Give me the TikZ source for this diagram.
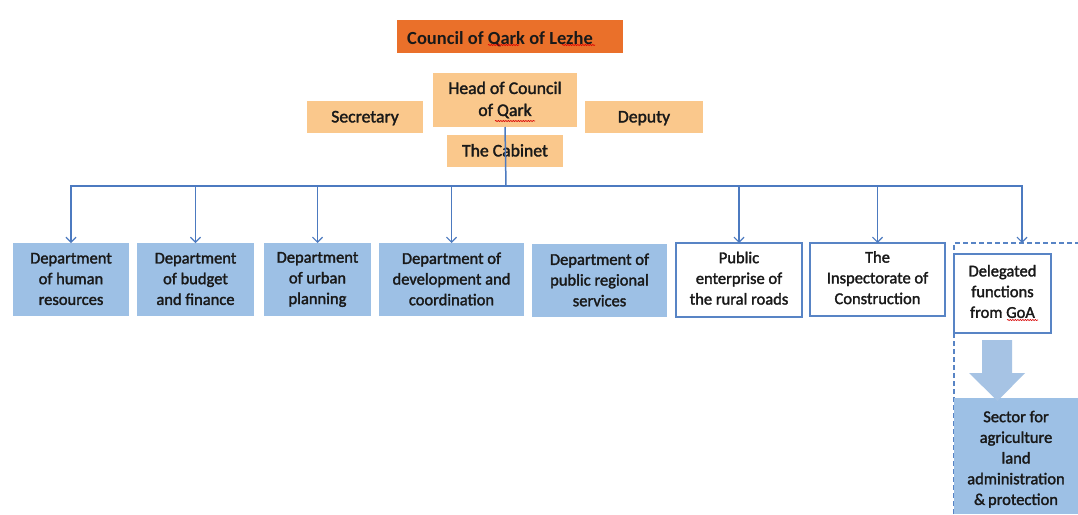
\documentclass[tikz,border=0pt]{standalone}
\usepackage{fontspec}
\setmainfont{Carlito}
\newfontfamily\boxfont[FakeBold=1.8]{Carlito}
\usetikzlibrary{arrows.meta,decorations.pathmorphing}
\definecolor{titleorange}{RGB}{234,112,42}
\definecolor{peach}{RGB}{250,200,140}
\definecolor{deptblue}{RGB}{157,192,229}
\definecolor{linkblue}{RGB}{76,122,192}
\definecolor{edgeblue}{RGB}{88,132,197}
\definecolor{txt}{RGB}{25,25,25}
\definecolor{arrowblue}{RGB}{166,195,228}
\tikzset{
  every node/.style={inner sep=0pt, outer sep=0pt, text=txt},
  vstrut/.style 2 args={execute at begin node={\rule{0pt}{#1}}, execute at end node={\rule[-#2]{0pt}{#2}}},
  titlebox/.style={fill=titleorange},
  titletext/.style={font=\fontsize{18.5}{22}\selectfont\bfseries},
  peachbox/.style={fill=peach, font=\boxfont\fontsize{17.7}{22}\selectfont, align=center, vstrut={16.4pt}{5.6pt}},
  headbox/.style={fill=peach, font=\boxfont\fontsize{17.7}{22}\selectfont, align=center, vstrut={21.4pt}{0.6pt}},
  deptbox/.style={fill=deptblue, font=\boxfont\fontsize{16.5}{20.7}\selectfont, align=center, vstrut={19.5pt}{1.2pt}},
  whitebox/.style={fill=white, draw=edgeblue, line width=1.4pt, font=\boxfont\fontsize{16.5}{20.7}\selectfont, align=center, vstrut={17pt}{3.7pt}},
  plaintext/.style={font=\boxfont\fontsize{16.5}{20.7}\selectfont, align=center, vstrut={14.5pt}{6.2pt}},
  link/.style={draw=linkblue, line width=1.5pt},
  drop/.style={link, -{Straight Barb[length=5pt,width=10pt,line width=1.2pt]}},
  spell/.style={draw=red!85!black, line width=0.6pt, decorate, decoration={snake, amplitude=0.6pt, segment length=2.5pt}}
}
\begin{document}
\begin{tikzpicture}[x=1pt,y=-1pt]
\useasboundingbox[fill=white] (0,0) rectangle (1078,514);
% top
\node[titlebox, minimum width=226pt, minimum height=33pt] (council) at (510,36.5) {};
\node[titletext] (counciltxt) at (500,39) {Council of Qark of Lezhe};
\node[headbox, minimum width=144pt, minimum height=54pt] (head) at (505,100) {Head of Council\\of Qark};
\node[peachbox, minimum width=116pt, minimum height=32pt] (sec) at (365,117) {Secretary};
\node[peachbox, minimum width=118pt, minimum height=32pt] (dep) at (644,117) {Deputy};
\node[peachbox, minimum width=116pt, minimum height=32pt] (cab) at (505,151) {The Cabinet};
% departments
\node[deptbox, minimum width=116pt, minimum height=73pt] (hr) at (71,279.5) {Department\\of human\\resources};
\node[deptbox, minimum width=117pt, minimum height=73pt] (bud) at (195.5,279.5) {Department\\of budget\\and finance};
\node[deptbox, minimum width=107pt, minimum height=73pt] (urb) at (317.5,279.5) {Department\\of urban\\planning};
\node[deptbox, minimum width=145pt, minimum height=73pt] (dev) at (451.5,279.5) {Department of\\development and\\coordination};
\node[deptbox, minimum width=135pt, minimum height=73pt] (pub) at (599.5,280.5) {Department of\\public regional\\services};
\node[whitebox, minimum width=126pt, minimum height=74pt] (ent) at (739,280) {Public\\enterprise of\\the rural roads};
\node[whitebox, minimum width=135pt, minimum height=73pt] (insp) at (877.5,279.5) {The\\Inspectorate of\\Construction};
% delegated group
\draw[edgeblue, line width=1.2pt, dash pattern=on 5pt off 3pt] (954,514) -- (954,243) -- (1078,243);
\coordinate (delegtop) at (1022,243);
\node[whitebox, minimum width=97pt, minimum height=79pt] (deleg) at (1002.5,293.5) {};
\node[plaintext] (delegtxt) at (1002.5,294.5) {Delegated\\functions\\from GoA};
\node[fill=deptblue, minimum width=124pt, minimum height=116pt] (sector) at (1016,456) {};
\node[plaintext] (sectortxt) at (1016,461) {Sector for\\agriculture\\land\\administration\\\&\,protection};
\fill[arrowblue] (982,340) -- (1012,340) -- (1012,373) -- (1025,373) -- (997.5,401) -- (969,373) -- (982,373) -- cycle;
% spell-check marks
\path[spell] (488,45) -- (519,45);
\path[spell] (562,45) -- (595,45);
\path[spell] (495,121) -- (535,121);
\path[spell] (1007,320) -- (1038,320);
% connectors
\coordinate (bus) at (506,186);
\draw[link] (head.south) -- (bus);
\draw[drop] (bus) -| (hr.north);
\draw[drop] (bus) -| (bud.north);
\draw[drop] (bus) -| (urb.north);
\draw[drop] (bus) -| (dev.north);
\draw[drop] (bus) -| (ent.north);
\draw[drop] (bus) -| (insp.north);
\draw[drop] (bus) -| (delegtop);
\end{tikzpicture}
\end{document}
